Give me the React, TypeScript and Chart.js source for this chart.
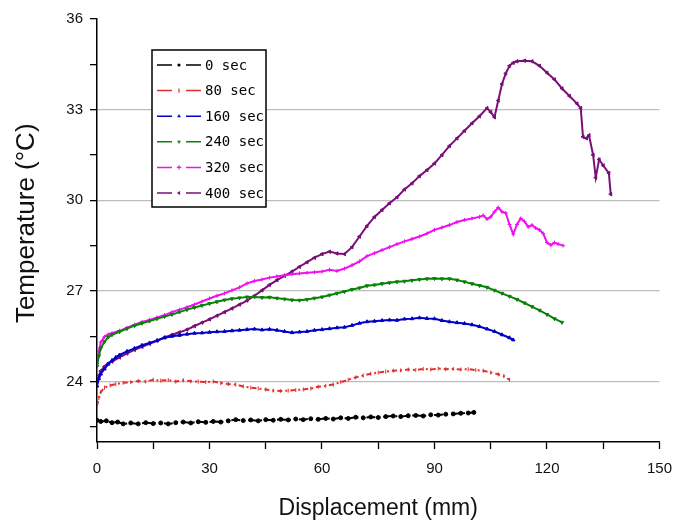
import { useEffect, useRef } from 'react';
import { Chart, registerables } from 'chart.js';

Chart.register(...registerables);

const SERIES_LABELS = ['0 sec', '80 sec', '160 sec', '240 sec', '320 sec', '400 sec'];
const SERIES_COLORS = ['#000000', '#e0302c', '#0000c8', '#0a820a', '#f010f0', '#7a0f78'];

const X_TICKS = [0, 15, 30, 45, 60, 75, 90, 105, 120, 135, 150];
const X_LABELS = [0, 30, 60, 90, 120, 150];
const Y_TICKS = [22.5, 24, 25.5, 27, 28.5, 30, 31.5, 33, 34.5, 36];
const Y_LABELS = [24, 27, 30, 33, 36];
const Y_GRID = [24, 27, 30, 33];

const S0: [number, number][] = [
  [0, 22.72], [1, 22.68], [2.5, 22.7], [4, 22.64], [5.5, 22.66], [7, 22.6], [9, 22.63], [11, 22.6], [13, 22.64], [15, 22.61],
  [17, 22.63], [19, 22.6], [21, 22.64], [23, 22.66], [25, 22.63], [27, 22.67], [29, 22.65], [31, 22.68], [33, 22.66], [35, 22.7],
  [37, 22.74], [39, 22.71], [41, 22.73], [43, 22.7], [45, 22.74], [47, 22.72], [49, 22.75], [51, 22.73], [53, 22.76], [55, 22.74],
  [57, 22.77], [59, 22.75], [61, 22.78], [63, 22.76], [65, 22.8], [67, 22.78], [69, 22.82], [71, 22.8], [73, 22.83], [75, 22.81],
  [77, 22.84], [79, 22.86], [81, 22.84], [83, 22.87], [85, 22.88], [87, 22.86], [89, 22.9], [91, 22.89], [93, 22.92], [95, 22.93],
  [97, 22.95], [99, 22.96], [100.5, 22.98],
];

const S80: [number, number][] = [
  [0, 23.2], [0.5, 23.45], [1, 23.65], [2, 23.8], [3.5, 23.87], [5, 23.92], [7, 23.96], [9, 23.98], [11, 24.02], [13, 24.0],
  [15, 24.06], [17, 24.03], [19, 24.05], [21, 24.0], [23, 24.04], [25, 24.01], [27, 24.0], [29, 23.98], [31, 24.0], [33, 23.95],
  [35, 23.92], [37, 23.9], [39, 23.84], [41, 23.8], [43, 23.77], [45, 23.74], [47, 23.7], [49, 23.69], [51, 23.7], [53, 23.72],
  [55, 23.74], [57, 23.77], [59, 23.83], [61, 23.86], [63, 23.9], [65, 23.98], [67, 24.06], [69, 24.14], [71, 24.2], [73, 24.26],
  [75, 24.3], [77, 24.33], [79, 24.36], [81, 24.37], [83, 24.4], [85, 24.38], [87, 24.42], [89, 24.4], [91, 24.43], [93, 24.41],
  [95, 24.42], [97, 24.4], [99, 24.41], [101, 24.38], [103, 24.36], [105, 24.3], [107, 24.24], [108.5, 24.18], [110, 24.06],
];

const S160: [number, number][] = [
  [0, 23.85], [0.5, 24.1], [1, 24.25], [2, 24.42], [3, 24.58], [4, 24.7], [5, 24.8], [6, 24.88], [8, 25.0], [10, 25.1],
  [12, 25.2], [14, 25.28], [16, 25.36], [18, 25.45], [20, 25.5], [22, 25.53], [24, 25.57], [26, 25.6], [28, 25.61], [30, 25.63],
  [32, 25.65], [34, 25.66], [36, 25.68], [38, 25.7], [40, 25.72], [42, 25.74], [44, 25.71], [46, 25.73], [48, 25.7], [50, 25.66],
  [52, 25.62], [54, 25.64], [56, 25.66], [58, 25.7], [60, 25.72], [62, 25.75], [64, 25.78], [66, 25.8], [68, 25.86], [70, 25.93],
  [72, 25.98], [74, 26.0], [76, 26.02], [78, 26.04], [80, 26.03], [82, 26.07], [84, 26.08], [86, 26.11], [88, 26.09], [90, 26.08],
  [92, 26.02], [94, 25.98], [96, 25.95], [98, 25.92], [100, 25.88], [102, 25.82], [104, 25.74], [106, 25.66], [108, 25.55], [110, 25.45],
  [111, 25.38],
];

const S240: [number, number][] = [
  [0, 24.5], [0.5, 24.85], [1, 25.1], [2, 25.32], [3, 25.47], [4, 25.55], [6, 25.65], [8, 25.75], [10, 25.85], [12, 25.93],
  [14, 26.0], [16, 26.08], [18, 26.15], [20, 26.22], [22, 26.3], [24, 26.38], [26, 26.45], [28, 26.52], [30, 26.58], [32, 26.64],
  [34, 26.7], [36, 26.74], [38, 26.77], [40, 26.8], [42, 26.8], [44, 26.78], [46, 26.79], [48, 26.76], [50, 26.73], [52, 26.7],
  [54, 26.69], [56, 26.72], [58, 26.76], [60, 26.8], [62, 26.86], [64, 26.92], [66, 26.98], [68, 27.05], [70, 27.1], [72, 27.17],
  [74, 27.2], [76, 27.24], [78, 27.27], [80, 27.3], [82, 27.32], [84, 27.35], [86, 27.38], [88, 27.4], [90, 27.41], [92, 27.4],
  [94, 27.4], [96, 27.36], [98, 27.3], [100, 27.24], [102, 27.18], [104, 27.12], [106, 27.02], [108, 26.92], [110, 26.82], [112, 26.72],
  [114, 26.6], [116, 26.48], [118, 26.36], [120, 26.22], [122, 26.08], [124, 25.96],
];

const S320: [number, number][] = [
  [0, 24.6], [0.5, 25.0], [1, 25.3], [2, 25.48], [3, 25.56], [4, 25.6], [6, 25.68], [8, 25.78], [10, 25.88], [12, 25.97],
  [14, 26.04], [16, 26.12], [18, 26.2], [20, 26.3], [22, 26.38], [24, 26.46], [26, 26.55], [28, 26.65], [30, 26.75], [32, 26.84],
  [34, 26.92], [36, 27.02], [38, 27.12], [40, 27.25], [42, 27.33], [44, 27.38], [46, 27.44], [48, 27.48], [50, 27.52], [52, 27.55],
  [54, 27.58], [56, 27.6], [58, 27.62], [60, 27.64], [62, 27.7], [64, 27.66], [66, 27.74], [68, 27.85], [70, 27.98], [72, 28.15],
  [74, 28.25], [76, 28.35], [78, 28.45], [80, 28.55], [82, 28.64], [84, 28.72], [86, 28.8], [88, 28.9], [90, 29.02], [92, 29.1],
  [94, 29.18], [96, 29.28], [98, 29.35], [100, 29.4], [102, 29.45], [103, 29.5], [104, 29.38], [105, 29.45], [106, 29.62], [107, 29.76],
  [108, 29.62], [109, 29.58], [110, 29.2], [111, 28.88], [112, 29.2], [113, 29.4], [114, 29.3], [115, 29.12], [116, 29.18], [117, 29.08],
  [118, 29.02], [119, 28.9], [120, 28.6], [121, 28.52], [122, 28.6], [123, 28.55], [124.3, 28.5],
];

const S400: [number, number][] = [
  [0, 24.0], [0.5, 24.2], [1, 24.35], [2, 24.5], [3, 24.6], [4, 24.66], [6, 24.8], [8, 24.93], [10, 25.05], [12, 25.15],
  [14, 25.25], [16, 25.35], [18, 25.46], [20, 25.55], [22, 25.63], [24, 25.72], [26, 25.84], [28, 25.95], [30, 26.06], [32, 26.18],
  [34, 26.3], [36, 26.42], [38, 26.55], [40, 26.68], [42, 26.84], [44, 27.02], [46, 27.2], [48, 27.36], [50, 27.5], [52, 27.64],
  [54, 27.8], [56, 27.95], [58, 28.1], [60, 28.22], [62, 28.3], [64, 28.24], [66, 28.22], [68, 28.45], [70, 28.8], [72, 29.15],
  [74, 29.45], [76, 29.68], [78, 29.9], [80, 30.1], [82, 30.36], [84, 30.56], [86, 30.8], [88, 31.0], [90, 31.22], [92, 31.5],
  [94, 31.8], [96, 32.05], [98, 32.3], [100, 32.55], [102, 32.78], [104, 33.05], [105, 32.92], [106, 32.75], [107, 33.3], [108, 33.85],
  [109, 34.2], [110, 34.45], [111, 34.55], [112, 34.6], [114, 34.62], [116, 34.6], [118, 34.45], [120, 34.22], [122, 34.0], [124, 33.7],
  [126, 33.45], [128, 33.2], [129, 33.05], [129.6, 32.1], [130.5, 32.05], [131.2, 32.15], [132.3, 31.5], [133, 30.75], [133.9, 31.35], [135, 31.15],
  [136.5, 30.9], [137, 30.2],
];

const SERIES_DATA = [S0, S80, S160, S240, S320, S400];
const POINT_STYLES = ['circle', 'line', 'triangle', 'triangle', 'cross', 'triangle'];
const POINT_ROT = [0, 90, 0, 180, 0, 270];
const DASHES: number[][] = [[9, 3, 2, 3], [5, 3, 2, 3], [], [], [], []];

function drawMarker(ctx: CanvasRenderingContext2D, i: number, x: number, y: number, color: string) {
  ctx.save();
  ctx.fillStyle = color;
  ctx.strokeStyle = color;
  ctx.lineWidth = 1.2;
  ctx.setLineDash([]);
  ctx.beginPath();
  const r = 2.2;
  if (i === 0) {
    ctx.arc(x, y, 1.6, 0, Math.PI * 2);
    ctx.fill();
  } else if (i === 1) {
    ctx.moveTo(x, y - r);
    ctx.lineTo(x, y + r);
    ctx.stroke();
  } else if (i === 4) {
    ctx.moveTo(x - r, y);
    ctx.lineTo(x + r, y);
    ctx.moveTo(x, y - r);
    ctx.lineTo(x, y + r);
    ctx.stroke();
  } else {
    const ang = (POINT_ROT[i] * Math.PI) / 180;
    for (let k = 0; k < 3; k++) {
      const a = ang + (k * 2 * Math.PI) / 3 - Math.PI / 2;
      const px = x + r * Math.cos(a);
      const py = y + r * Math.sin(a);
      if (k === 0) ctx.moveTo(px, py);
      else ctx.lineTo(px, py);
    }
    ctx.closePath();
    ctx.fill();
  }
  ctx.restore();
}

const boxLegend = {
  id: 'boxLegend',
  afterDatasetsDraw(chart: any) {
    const ctx: CanvasRenderingContext2D = chart.ctx;
    const x0 = 152;
    const y0 = 50;
    const w = 114;
    const h = 157;
    ctx.save();
    ctx.fillStyle = '#ffffff';
    ctx.fillRect(x0, y0, w, h);
    ctx.strokeStyle = '#000';
    ctx.lineWidth = 1.5;
    ctx.strokeRect(x0, y0, w, h);
    SERIES_LABELS.forEach((label, i) => {
      const y = y0 + 15 + i * 25.6;
      const c = SERIES_COLORS[i];
      ctx.strokeStyle = c;
      ctx.lineWidth = 1.5;
      ctx.beginPath();
      ctx.moveTo(157, y);
      ctx.lineTo(172, y);
      ctx.moveTo(186, y);
      ctx.lineTo(201, y);
      ctx.stroke();
      drawMarker(ctx, i, 179, y, c);
      ctx.fillStyle = '#000';
      ctx.font = '14px "DejaVu Sans Mono"';
      ctx.textBaseline = 'middle';
      ctx.textAlign = 'left';
      ctx.fillText(label, 205, y + 1);
    });
    ctx.restore();
  },
};

export default function App() {
  const ref = useRef<HTMLCanvasElement>(null);

  useEffect(() => {
    document.body.style.margin = '0';
    if (!ref.current) return;
    const chart = new Chart(ref.current, {
      type: 'line',
      data: {
        datasets: SERIES_DATA.map((s, i) => ({
          label: SERIES_LABELS[i],
          data: s.map(([x, y]) => ({ x, y })),
          borderColor: SERIES_COLORS[i],
          backgroundColor: SERIES_COLORS[i],
          borderWidth: 2,
          borderDash: DASHES[i],
          pointStyle: POINT_STYLES[i] as any,
          rotation: POINT_ROT[i],
          pointRadius: 2,
          pointBorderWidth: 1,
          pointBackgroundColor: SERIES_COLORS[i],
          pointBorderColor: SERIES_COLORS[i],
          tension: 0,
          fill: false,
        })),
      },
      options: {
        animation: false,
        responsive: false,
        maintainAspectRatio: false,
        layout: { padding: { top: 19, right: 19, left: 0, bottom: 0 } },
        plugins: {
          legend: { display: false },
          tooltip: { enabled: false },
        },
        scales: {
          x: {
            type: 'linear',
            min: 0,
            max: 150,
            afterBuildTicks: (s: any) => {
              s.ticks = X_TICKS.map((v) => ({ value: v }));
            },
            afterFit: (s: any) => {
              s.height = 85;
            },
            ticks: {
              autoSkip: false,
              maxRotation: 0,
              padding: 11,
              color: '#111',
              font: { family: 'Liberation Sans', size: 15 },
              callback: (v: any) => (X_LABELS.includes(Number(v)) ? String(v) : ''),
            },
            grid: { drawOnChartArea: false, tickLength: 7, tickColor: '#000', tickWidth: 1.3 },
            border: { display: true, color: '#000', width: 1.5 },
            title: {
              display: true,
              text: 'Displacement (mm)',
              color: '#111',
              font: { family: 'Liberation Sans', size: 23 },
              padding: { top: 0, bottom: 5 },
            },
          },
          y: {
            type: 'linear',
            min: 22,
            max: 36,
            afterBuildTicks: (s: any) => {
              s.ticks = Y_TICKS.map((v) => ({ value: v }));
            },
            afterFit: (s: any) => {
              s.width = 97;
            },
            ticks: {
              autoSkip: false,
              padding: 7,
              color: '#111',
              font: { family: 'Liberation Sans', size: 15 },
              callback: (v: any) => (Y_LABELS.includes(Number(v)) ? String(v) : ''),
            },
            grid: {
              color: (c: any) => (c.tick && Y_GRID.includes(c.tick.value) ? '#bdbdbd' : 'rgba(0,0,0,0)'),
              lineWidth: 1.3,
              tickLength: 7,
              tickColor: '#000',
              tickWidth: 1.3,
            },
            border: { display: true, color: '#000', width: 1.5 },
            title: {
              display: true,
              text: '  Temperature (°C)',
              color: '#111',
              font: { family: 'Liberation Sans', size: 26 },
              padding: { top: 11, bottom: 0 },
            },
          },
        },
      },
      plugins: [boxLegend],
    });
    return () => chart.destroy();
  }, []);

  return (
    <div style={{ width: 683, height: 527, position: 'relative' }}>
      <canvas ref={ref} width={683} height={527} />
    </div>
  );
}
